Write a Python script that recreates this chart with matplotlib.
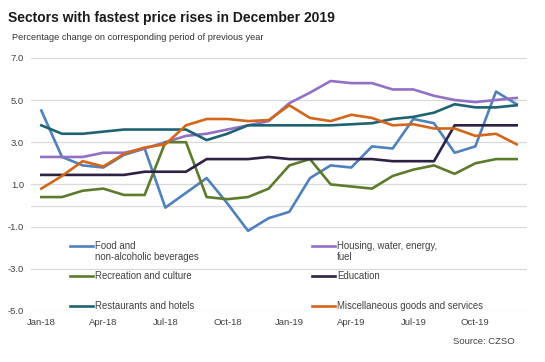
import matplotlib
matplotlib.use("Agg")
import matplotlib.pyplot as plt
from matplotlib.lines import Line2D

plt.rcParams['font.family'] = ['Liberation Sans', 'DejaVu Sans']

# monthly data, Jan-18 .. Dec-19
months = ["Jan-18", "Feb-18", "Mar-18", "Apr-18", "May-18", "Jun-18",
          "Jul-18", "Aug-18", "Sep-18", "Oct-18", "Nov-18", "Dec-18",
          "Jan-19", "Feb-19", "Mar-19", "Apr-19", "May-19", "Jun-19",
          "Jul-19", "Aug-19", "Sep-19", "Oct-19", "Nov-19", "Dec-19"]
food = [4.5, 2.3, 1.9, 1.8, 2.4, 2.7, -0.1, 0.6, 1.3, 0.1, -1.2, -0.6,
        -0.3, 1.3, 1.9, 1.8, 2.8, 2.7, 4.1, 3.9, 2.5, 2.8, 5.4, 4.8]
housing = [2.3, 2.3, 2.3, 2.5, 2.5, 2.7, 3.0, 3.3, 3.4, 3.6, 3.8, 4.0,
           4.85, 5.35, 5.9, 5.8, 5.8, 5.5, 5.5, 5.2, 5.0, 4.9, 5.0, 5.1]
recreation = [0.4, 0.4, 0.7, 0.8, 0.5, 0.5, 3.0, 3.0, 0.4, 0.3, 0.4, 0.8,
              1.9, 2.2, 1.0, 0.9, 0.8, 1.4, 1.7, 1.9, 1.5, 2.0, 2.2, 2.2]
education = [1.45, 1.45, 1.45, 1.45, 1.45, 1.6, 1.6, 1.6, 2.2, 2.2, 2.2, 2.3,
             2.2, 2.2, 2.2, 2.2, 2.2, 2.1, 2.1, 2.1, 3.8, 3.8, 3.8, 3.8]
restaurants = [3.8, 3.4, 3.4, 3.5, 3.6, 3.6, 3.6, 3.6, 3.1, 3.4, 3.8, 3.8,
               3.8, 3.8, 3.8, 3.85, 3.9, 4.1, 4.2, 4.4, 4.8, 4.65, 4.65, 4.75]
misc = [0.8, 1.4, 2.1, 1.85, 2.45, 2.75, 2.9, 3.8, 4.1, 4.1, 4.0, 4.05,
        4.75, 4.15, 4.0, 4.3, 4.15, 3.8, 3.85, 3.65, 3.65, 3.3, 3.4, 2.9]

labels = ["Food and\nnon-alcoholic beverages", "Housing, water, energy,\nfuel",
          "Recreation and culture", "Education",
          "Restaurants and hotels", "Miscellaneous goods and services"]
series = [food, housing, recreation, education, restaurants, misc]
colors = ["#4f81bd", "#9270c4", "#5e7b2c", "#2d2146", "#1f6272", "#d2661a"]

W, H = 545, 362
fig = plt.figure(figsize=(W / 100, H / 100), dpi=100)
ax = fig.add_axes([31 / W, 1 - 311 / H, (527 - 31) / W, (311 - 57.8) / H])

x = list(range(len(months)))
for vals, c in zip(series, colors):
    ax.plot(x, vals, color=c, lw=1.9, solid_joinstyle='round', zorder=3)

ax.set_xlim(-0.5, len(months) - 0.5)
ax.set_ylim(-5, 7)
ax.set_yticks([-5, -3, -1, 1, 3, 5, 7])
ax.set_yticklabels([f"{v:.1f}" for v in [-5, -3, -1, 1, 3, 5, 7]])
ax.set_xticks(x[::3])
ax.set_xticklabels(months[::3])
ax.grid(axis='y', color='#d9d9d9', lw=0.9, zorder=0)
ax.axhline(0, color='#d9d9d9', lw=0.9, zorder=0)
for s in ax.spines.values():
    s.set_visible(False)
ax.tick_params(length=0, labelsize=6.8, colors='#404040')
ax.tick_params(axis='y', pad=5)
ax.tick_params(axis='x', pad=5)


def px(xp, yp):
    return xp / W, 1 - yp / H


# legend drawn by hand, two columns
cols = [(70, 93, 95), (312, 335, 337)]
rows = [246, 276, 306]
for i, (lab, c) in enumerate(zip(labels, colors)):
    x0, x1, xt = cols[i % 2]
    yr = rows[i // 2]
    a, b = px(x0, yr)
    a2, _ = px(x1, yr)
    fig.add_artist(Line2D([a, a2], [b, b], color=c, lw=1.9,
                          transform=fig.transFigure))
    tx, ty = px(xt, yr - 5)
    fig.text(tx, ty, lab, fontsize=6.9, color='#404040', va='top', ha='left',
             linespacing=1.15)

fig.text(*px(8, 18), "Sectors with fastest price rises in December 2019",
         fontsize=10, fontweight='bold', va='center', ha='left', color='#1a1a1a')
fig.text(*px(12, 37), "Percentage change on corresponding period of previous year",
         fontsize=6.7, va='center', ha='left', color='#333333')
fig.text(*px(515, 341), "Source: CZSO", fontsize=6.8, va='center', ha='right',
         color='#404040')

fig.savefig("out.png", dpi=100)
